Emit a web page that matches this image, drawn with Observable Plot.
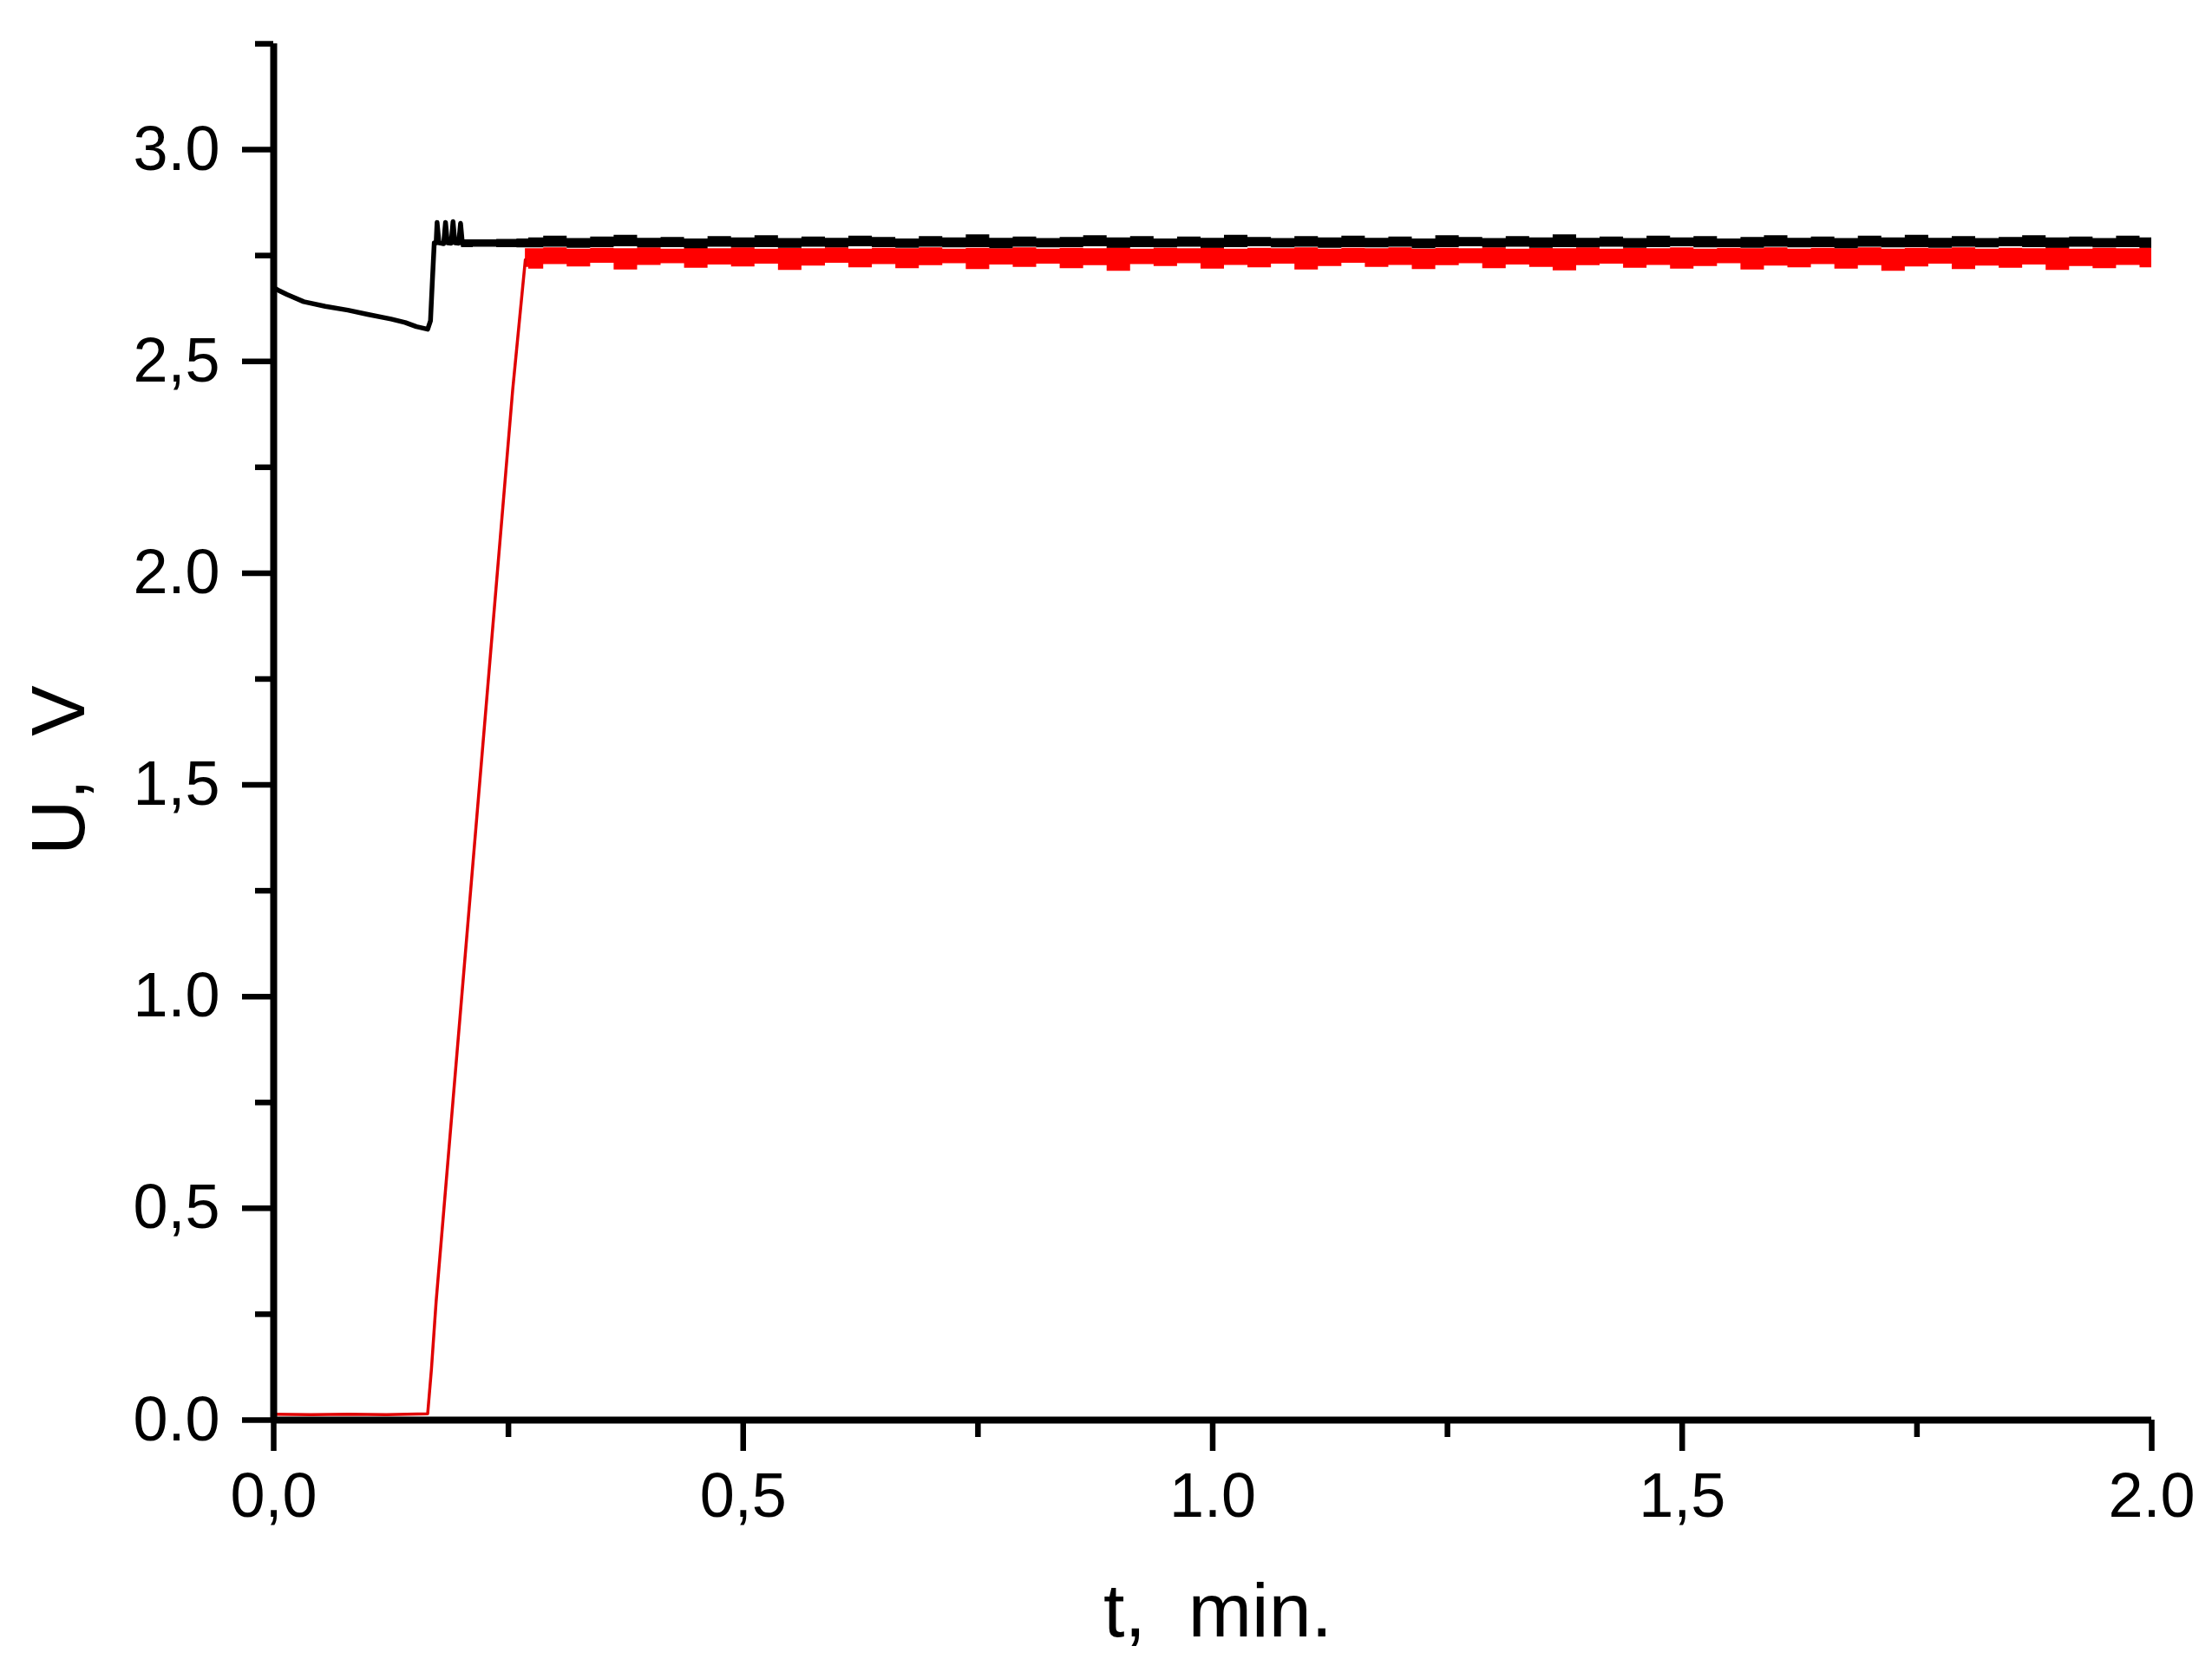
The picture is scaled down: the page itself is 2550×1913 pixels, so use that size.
<!DOCTYPE html>
<html>
<head>
<meta charset="utf-8">
<script src="https://cdn.jsdelivr.net/npm/d3@7"></script>
<script src="https://cdn.jsdelivr.net/npm/@observablehq/plot@0.6"></script>
<style>
  html, body { margin: 0; padding: 0; background: #fff; }
  #chart { width: 2550px; height: 1913px; }
</style>
</head>
<body>
<div id="chart"></div>
<script>
// ---- Data ----
const xTicks = [0, 0.5, 1, 1.5, 2];
const xTickLabels = ["0,0", "0,5", "1.0", "1,5", "2.0"];
const xMinor = [0.25, 0.75, 1.25, 1.75];
const yTicks = [0, 0.5, 1, 1.5, 2, 2.5, 3];
const yTickLabels = ["0.0", "0,5", "1.0", "1,5", "2.0", "2,5", "3.0"];
const yMinor = [0.25, 0.75, 1.25, 1.75, 2.25, 2.75, 3.25];

// black trace before the plateau (t in min, U in V)
const blackT = [0, 0.005, 0.014, 0.032, 0.055, 0.079, 0.100, 0.125, 0.140, 0.152, 0.164, 0.167, 0.169, 0.171,
                0.173, 0.174, 0.176, 0.181, 0.183, 0.185, 0.189, 0.191, 0.193, 0.197, 0.199, 0.201];
const blackU = [2.674, 2.668, 2.658, 2.641, 2.630, 2.621, 2.611, 2.600, 2.592, 2.582, 2.576, 2.596, 2.690, 2.780,
                2.780, 2.828, 2.780, 2.778, 2.828, 2.780, 2.779, 2.830, 2.780, 2.779, 2.826, 2.778];

// red trace before the plateau
const redT = [0, 0.04, 0.08, 0.12, 0.164, 0.168, 0.173, 0.2545, 0.268];
const redU = [0.014, 0.013, 0.014, 0.013, 0.015, 0.12, 0.28, 2.432, 2.74];

// plateau: time grid and envelope (low/high) of each noisy trace (null = trace not yet there)
const bandT = [
  0.200, 0.225, 0.250, 0.268,
  0.275, 0.300, 0.325, 0.350, 0.375, 0.400, 0.425, 0.450, 0.475, 0.500,
  0.525, 0.550, 0.575, 0.600, 0.625, 0.650, 0.675, 0.700, 0.725, 0.750,
  0.775, 0.800, 0.825, 0.850, 0.875, 0.900, 0.925, 0.950, 0.975, 1.000,
  1.025, 1.050, 1.075, 1.100, 1.125, 1.150, 1.175, 1.200, 1.225, 1.250,
  1.275, 1.300, 1.325, 1.350, 1.375, 1.400, 1.425, 1.450, 1.475, 1.500,
  1.525, 1.550, 1.575, 1.600, 1.625, 1.650, 1.675, 1.700, 1.725, 1.750,
  1.775, 1.800, 1.825, 1.850, 1.875, 1.900, 1.925, 1.950, 1.975, 2.000];
const blackHi = [
  2.787, 2.787, 2.788, 2.789,
  2.792, 2.796, 2.790, 2.794, 2.798, 2.791, 2.793, 2.789, 2.795, 2.792,
  2.797, 2.790, 2.794, 2.791, 2.796, 2.793, 2.789, 2.795, 2.792, 2.799,
  2.791, 2.794, 2.790, 2.793, 2.797, 2.792, 2.795, 2.789, 2.794, 2.791,
  2.798, 2.793, 2.790, 2.795, 2.792, 2.796, 2.791, 2.794, 2.789, 2.797,
  2.793, 2.790, 2.795, 2.792, 2.799, 2.791, 2.794, 2.790, 2.796, 2.792,
  2.795, 2.789, 2.793, 2.797, 2.791, 2.794, 2.790, 2.796, 2.792, 2.798,
  2.791, 2.795, 2.790, 2.793, 2.797, 2.792, 2.794, 2.790, 2.796, 2.792];
const blackLo = [
  2.769, 2.770, 2.769, 2.768,
  2.768, 2.770, 2.767, 2.769, 2.771, 2.768, 2.769, 2.766, 2.770, 2.768,
  2.769, 2.767, 2.770, 2.768, 2.771, 2.769, 2.767, 2.770, 2.768, 2.769,
  2.766, 2.770, 2.768, 2.769, 2.771, 2.767, 2.769, 2.768, 2.770, 2.767,
  2.769, 2.771, 2.768, 2.770, 2.767, 2.769, 2.768, 2.770, 2.766, 2.769,
  2.771, 2.768, 2.770, 2.767, 2.769, 2.768, 2.770, 2.767, 2.769, 2.771,
  2.768, 2.769, 2.767, 2.770, 2.768, 2.769, 2.766, 2.770, 2.768, 2.769,
  2.767, 2.770, 2.768, 2.771, 2.769, 2.767, 2.770, 2.768, 2.769, 2.767];
const redHi = [
  null, null, null, 2.766,
  2.766, 2.768, 2.765, 2.767, 2.766, 2.768, 2.765, 2.767, 2.766, 2.768,
  2.765, 2.767, 2.766, 2.768, 2.765, 2.767, 2.766, 2.768, 2.765, 2.767,
  2.766, 2.768, 2.765, 2.767, 2.766, 2.768, 2.765, 2.767, 2.766, 2.768,
  2.765, 2.767, 2.766, 2.768, 2.765, 2.767, 2.766, 2.768, 2.765, 2.767,
  2.766, 2.768, 2.765, 2.767, 2.766, 2.768, 2.765, 2.767, 2.766, 2.768,
  2.765, 2.767, 2.766, 2.768, 2.765, 2.767, 2.766, 2.768, 2.765, 2.767,
  2.766, 2.768, 2.765, 2.767, 2.766, 2.768, 2.765, 2.767, 2.766, 2.768];
const redLo = [
  null, null, null, 2.722,
  2.718, 2.729, 2.723, 2.732, 2.716, 2.727, 2.731, 2.720, 2.728, 2.723,
  2.730, 2.715, 2.725, 2.732, 2.721, 2.729, 2.719, 2.726, 2.731, 2.717,
  2.728, 2.722, 2.730, 2.719, 2.726, 2.713, 2.729, 2.724, 2.731, 2.718,
  2.727, 2.721, 2.730, 2.716, 2.724, 2.732, 2.722, 2.727, 2.717, 2.726,
  2.731, 2.719, 2.728, 2.722, 2.714, 2.726, 2.730, 2.720, 2.727, 2.718,
  2.724, 2.731, 2.716, 2.725, 2.721, 2.729, 2.718, 2.726, 2.713, 2.723,
  2.730, 2.717, 2.725, 2.720, 2.728, 2.715, 2.724, 2.719, 2.727, 2.721];

// ---- Tables built from the arrays ----
const blackData = blackT.map((t, i) => ({t, u: blackU[i]}));
const redData = redT.map((t, i) => ({t, u: redU[i]}));
const bandData = bandT.map((t, i) => ({t, bLo: blackLo[i], bHi: blackHi[i], rLo: redLo[i], rHi: redHi[i]}));
const xLab = new Map(xTicks.map((d, i) => [d, xTickLabels[i]]));
const yLab = new Map(yTicks.map((d, i) => [d, yTickLabels[i]]));

const font = "'Liberation Sans', Arial, sans-serif";

const chart = Plot.plot({
  width: 2550,
  height: 1913,
  marginLeft: 315,
  marginRight: 70,
  marginTop: 50,
  marginBottom: 276,
  style: {fontFamily: font, background: "#fff", color: "#000"},
  x: {domain: [0, 2], label: null},
  y: {domain: [0, 3.25], label: null},
  marks: [
    // red trace
    Plot.areaY(bandData, {x: "t", y1: "rLo", y2: "rHi", fill: "#ff0000", curve: "step"}),
    Plot.line(redData, {x: "t", y: "u", stroke: "#e00000", strokeWidth: 3.5}),
    // black trace
    Plot.line(blackData, {x: "t", y: "u", stroke: "#000", strokeWidth: 5.5}),
    Plot.areaY(bandData, {x: "t", y1: "bLo", y2: "bHi", fill: "#000", curve: "step"}),
    // axes
    Plot.axisX({ticks: xMinor, tickSize: 20, strokeWidth: 6.5, tickFormat: () => "", label: null}),
    Plot.axisX({ticks: xTicks, tickSize: 36, strokeWidth: 6.5, tickPadding: 24, fontSize: 72,
                tickFormat: d => xLab.get(d), label: null}),
    Plot.axisY({ticks: yMinor, tickSize: 21, strokeWidth: 6.5, tickFormat: () => "", label: null}),
    Plot.axisY({ticks: yTicks, tickSize: 36, strokeWidth: 6.5, tickPadding: 26, fontSize: 72,
                tickFormat: d => yLab.get(d), label: null}),
    Plot.ruleY([0], {stroke: "#000", strokeWidth: 8}),
    Plot.ruleX([0], {stroke: "#000", strokeWidth: 8}),
    // axis titles
    Plot.text(["t,\u00a0\u00a0min."], {frameAnchor: "bottom", dx: 6, dy: 249, lineAnchor: "bottom",
                fontSize: 88, fill: "#000"}),
    Plot.text(["U,\u00a0\u00a0V"], {frameAnchor: "left", rotate: -90, dx: -247, dy: 142,
                fontSize: 88, fill: "#000"})
  ]
});
document.getElementById("chart").appendChild(chart);
</script>
</body>
</html>
